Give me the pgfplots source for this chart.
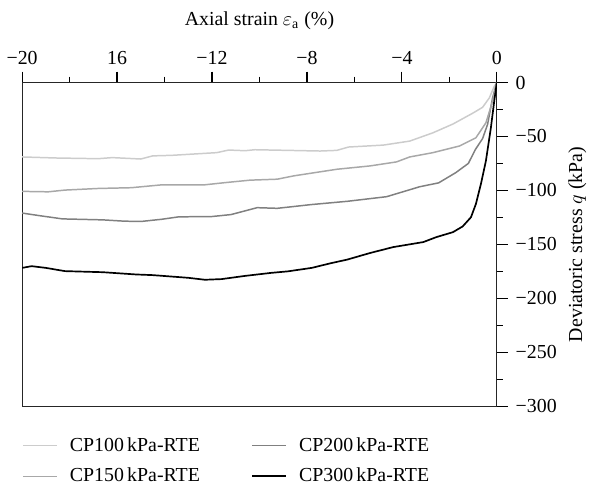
\documentclass[border=0pt]{standalone}
\usepackage{fontspec}
\setmainfont{Liberation Serif}
\usepackage{pgfplots}
\pgfplotsset{compat=1.18}
\definecolor{cpA}{gray}{0.80}
\definecolor{cpB}{gray}{0.66}
\definecolor{cpC}{gray}{0.50}

\begin{document}
\begin{tikzpicture}
\begin{axis}[
  scale only axis,
  width=239pt, height=163pt,
  xmin=-20, xmax=0, ymin=-300, ymax=0,
  xtick={-20,-16,-12,-8,-4,0},
  xticklabels={−20,16,−12,−8,−4,0},
  ytick={-300,-250,-200,-150,-100,-50,0},
  yticklabels={−300,−250,−200,−150,−100,−50,0},
  minor x tick num=1, minor y tick num=1,
  xtick pos=upper, ytick pos=right,
  xticklabel pos=upper, yticklabel pos=right,
  tick align=outside,
  major tick length=5.5pt, minor tick length=3pt,
  tick style={black, line width=0.6pt},
  axis line style={black!85, line width=0.6pt},
  xlabel={Axial strain $\varepsilon_{\mathrm{a}}$ (\%)},
  ylabel={Deviatoric stress $q$ (kPa)},
  xlabel style={yshift=4pt},
  ylabel shift=-1pt,
  yticklabel style={xshift=0.5pt},
  label style={font=\normalsize},
  tick label style={font=\normalsize},
  legend columns=2,
  legend cell align=left,
  legend style={draw=none, fill=none, at={(0,-0.07)}, anchor=north west,
    xshift=-3pt, font=\normalsize, row sep=3pt,
    /tikz/every odd column/.append style={column sep=4pt},
    /tikz/every even column/.append style={column sep=24pt}},
]
\addplot[cpA, line width=0.75pt] coordinates {
(-20,-69) (-18.5,-70) (-16.8,-70.6) (-16.2,-69.6) (-15.0,-70.9) (-14.5,-68)
(-13.7,-67.5) (-11.8,-65) (-11.3,-62.6) (-10.6,-63.2) (-10.2,-62.3) (-8.8,-62.9)
(-7.45,-63.5) (-6.74,-62.9) (-6.25,-59.8) (-4.78,-58) (-3.67,-54.3) (-2.69,-46.6)
(-1.85,-38.5) (-1.02,-28.5) (-0.6,-23) (-0.32,-14.4) (-0.11,-3.7) (0,0)};
\addlegendentry{CP100\,kPa-RTE}
\addplot[cpC, line width=0.75pt] coordinates {
(-20,-121) (-19.3,-123.3) (-18.3,-126.4) (-16.6,-127.3) (-15.7,-128.5) (-15.0,-128.8)
(-14.1,-126.7) (-13.4,-124.5) (-12.0,-124.2) (-11.2,-122.4) (-10.1,-116) (-9.25,-116.6)
(-7.85,-113.2) (-6.3,-110.1) (-4.64,-105.8) (-3.25,-96.6) (-2.45,-93) (-1.72,-83.4)
(-1.2,-75) (-0.9,-62) (-0.6,-52) (-0.39,-38.9) (-0.18,-14.4) (0,0)};
\addlegendentry{CP200\,kPa-RTE}
\addplot[cpB, line width=0.75pt] coordinates {
(-20,-100.9) (-18.9,-101.3) (-18.2,-99.7) (-16.8,-98.2) (-15.4,-97.5) (-14.1,-94.8)
(-12.3,-94.8) (-11.5,-92.9) (-10.4,-90.5) (-9.25,-89.6) (-8.55,-86.5) (-6.74,-80.4)
(-5.34,-77.3) (-4.23,-73.6) (-3.67,-69) (-2.69,-65) (-1.58,-58.9) (-0.88,-51.2)
(-0.46,-37.4) (-0.18,-17.5) (0,0)};
\addlegendentry{CP150\,kPa-RTE}
\addplot[black, line width=0.85pt] coordinates {
(-20,-171.8) (-19.6,-170.2) (-19.0,-171.8) (-18.2,-174.8) (-16.6,-175.8) (-15.2,-177.9)
(-14.5,-178.5) (-13.0,-181) (-12.3,-182.8) (-11.6,-182.2) (-10.6,-179.2) (-9.5,-176.4)
(-8.8,-175) (-7.8,-171.8) (-7.0,-167.5) (-6.3,-164.1) (-5.34,-158) (-4.36,-152.5)
(-3.1,-147.9) (-2.55,-143.3) (-1.85,-138.7) (-1.44,-133.4) (-1.09,-124.9) (-0.88,-112.5)
(-0.67,-94.1) (-0.46,-72.7) (-0.25,-42) (-0.11,-17.5) (0,0)};
\addlegendentry{CP300\,kPa-RTE}
\end{axis}
\path (current bounding box.north) ++(0,2.5pt);
\end{tikzpicture}
\end{document}
